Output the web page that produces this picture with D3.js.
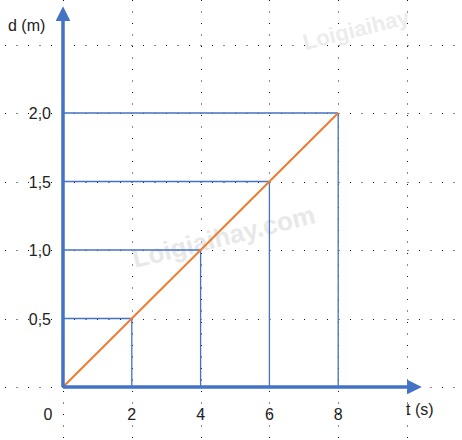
<!DOCTYPE html>
<html>
<head>
<meta charset="utf-8">
<script src="https://cdn.jsdelivr.net/npm/d3@7"></script>
<style>
  body { margin: 0; background: #fff; }
  text { font-family: "Liberation Sans", Arial, sans-serif; fill: #222; }
</style>
</head>
<body>
<div id="chart"></div>
<script>
// data
var times = [0, 2, 4, 6, 8];
var distances = [0, 0.5, 1.0, 1.5, 2.0];
var xTickValues = [2, 4, 6, 8];
var yTickValues = [0.5, 1.0, 1.5, 2.0];
var yTickLabels = ["0,5", "1,0", "1,5", "2,0"];
var xGridValues = [0, 2, 4, 6, 8, 10];
var yGridValues = [0, 0.5, 1.0, 1.5, 2.0, 2.5];

var width = 462, height = 440;
var blue = "#4472C4", orange = "#ED7D31";

var x = d3.scaleLinear().domain([0, 10]).range([63, 407]);
var y = d3.scaleLinear().domain([0, 2.5]).range([387, 44.5]);

var svg = d3.select("#chart").append("svg")
    .attr("width", width)
    .attr("height", height);

// dotted grid
svg.append("g").selectAll("line")
    .data(yGridValues)
    .enter().append("line")
    .attr("x1", 5).attr("x2", width)
    .attr("y1", function (d) { return Math.round(y(d)) + 0.5; })
    .attr("y2", function (d) { return Math.round(y(d)) + 0.5; })
    .attr("stroke", "#111")
    .attr("stroke-dasharray", "1,10.5");

svg.append("g").selectAll("line")
    .data(xGridValues)
    .enter().append("line")
    .attr("y1", 0).attr("y2", height)
    .attr("x1", function (d) { return Math.round(x(d)) + 0.5; })
    .attr("x2", function (d) { return Math.round(x(d)) + 0.5; })
    .attr("stroke", "#111")
    .attr("stroke-dasharray", "1,10.5");

// watermark
svg.append("text")
    .attr("transform", "translate(135,268) rotate(-14)")
    .attr("font-size", 26).attr("font-weight", "bold")
    .style("fill", "#e8e8e8")
    .text("Loigiaihay.com");
svg.append("text")
    .attr("transform", "translate(305,50) rotate(-14)")
    .attr("font-size", 22).attr("font-weight", "bold")
    .style("fill", "#ececec")
    .text("Loigiaihay");

// projection lines
var pts = times.map(function (t, i) { return { t: t, d: distances[i] }; }).filter(function (p) { return p.t > 0; });

svg.append("g").selectAll("line")
    .data(pts)
    .enter().append("line")
    .attr("x1", x(0)).attr("x2", function (p) { return x(p.t); })
    .attr("y1", function (p) { return y(p.d); })
    .attr("y2", function (p) { return y(p.d); })
    .attr("stroke", blue).attr("stroke-width", 1.3);

svg.append("g").selectAll("line")
    .data(pts)
    .enter().append("line")
    .attr("x1", function (p) { return x(p.t); })
    .attr("x2", function (p) { return x(p.t); })
    .attr("y1", function (p) { return y(p.d); })
    .attr("y2", y(0))
    .attr("stroke", blue).attr("stroke-width", 1.3);

// d(t) line
var line = d3.line()
    .x(function (d, i) { return x(times[i]); })
    .y(function (d) { return y(d); });

svg.append("path")
    .datum(distances)
    .attr("d", line)
    .attr("fill", "none")
    .attr("stroke", orange)
    .attr("stroke-width", 2);

// axes with arrows
var defs = svg.append("defs");
defs.append("marker")
    .attr("id", "arrow")
    .attr("viewBox", "0 0 10 10")
    .attr("refX", 2).attr("refY", 5)
    .attr("markerWidth", 4.2).attr("markerHeight", 4.2)
    .attr("markerUnits", "strokeWidth")
    .attr("orient", "auto")
    .append("path")
    .attr("d", "M0,0L10,5L0,10Z")
    .attr("fill", blue);

svg.append("line")
    .attr("x1", x(0)).attr("y1", y(0))
    .attr("x2", 410).attr("y2", y(0))
    .attr("stroke", blue).attr("stroke-width", 3.5)
    .attr("marker-end", "url(#arrow)");

svg.append("line")
    .attr("x1", x(0)).attr("y1", y(0))
    .attr("x2", x(0)).attr("y2", 18)
    .attr("stroke", blue).attr("stroke-width", 3.5)
    .attr("marker-end", "url(#arrow)");

// labels
svg.append("g").selectAll("text")
    .data(xTickValues)
    .enter().append("text")
    .attr("x", function (d) { return x(d); })
    .attr("y", 420)
    .attr("text-anchor", "middle")
    .attr("font-size", 16)
    .text(function (d) { return d; });

svg.append("text")
    .attr("x", 48).attr("y", 420)
    .attr("text-anchor", "middle")
    .attr("font-size", 16)
    .text("0");

svg.append("g").selectAll("text")
    .data(yTickValues)
    .enter().append("text")
    .attr("x", 51)
    .attr("y", function (d) { return y(d) + 6; })
    .attr("text-anchor", "end")
    .attr("font-size", 16)
    .text(function (d, i) { return yTickLabels[i]; });

svg.append("text")
    .attr("x", 8).attr("y", 31)
    .attr("font-size", 16)
    .text("d (m)");

svg.append("text")
    .attr("x", 406).attr("y", 415)
    .attr("font-size", 16)
    .text("t (s)");
</script>
</body>
</html>
